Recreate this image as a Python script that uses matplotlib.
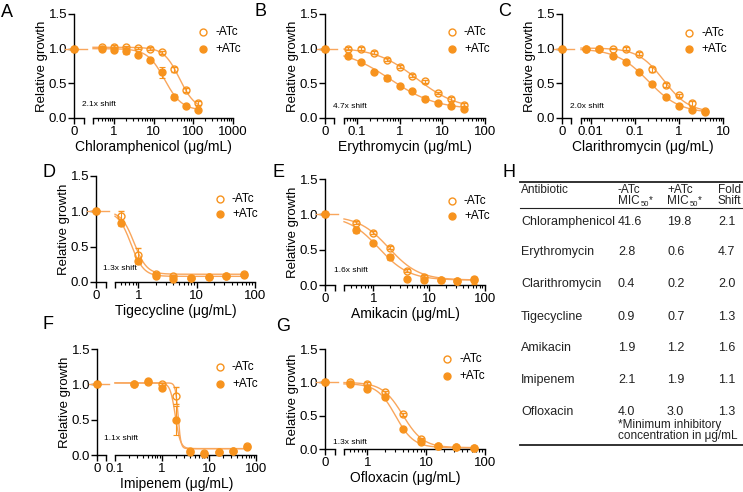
import numpy as np
import matplotlib
matplotlib.use("Agg")
import matplotlib.pyplot as plt
from matplotlib.lines import Line2D
from matplotlib.transforms import Affine2D
from matplotlib.ticker import FixedLocator, NullFormatter

W, H = 743, 492
ORANGE = '#F7931E'
CURVE = '#F9A65C'
TXT = '#222222'

plt.rcParams['font.family'] = ['Liberation Sans', 'DejaVu Sans']

# ---- data ----
chl_conc = [0.5, 1, 2, 4, 8, 16, 32, 64, 128]
chl_minus = [1.02, 1.03, 1.02, 1.01, 1.00, 0.95, 0.70, 0.40, 0.22]
chl_plus = [0.99, 0.98, 0.96, 0.91, 0.84, 0.66, 0.31, 0.17, 0.12]
chl_err_minus = [0.02, 0.02, 0.02, 0.02, 0.02, 0.02, 0.03, 0.03, 0.03]
chl_err_plus = [0.02, 0.02, 0.03, 0.02, 0.02, 0.08, 0.03, 0.02, 0.02]

ery_conc = [0.0625, 0.125, 0.25, 0.5, 1, 2, 4, 8, 16, 32]
ery_minus = [1.00, 1.00, 0.94, 0.84, 0.74, 0.61, 0.53, 0.36, 0.27, 0.19]
ery_plus = [0.90, 0.81, 0.67, 0.58, 0.46, 0.39, 0.28, 0.21, 0.17, 0.13]
ery_err_minus = [0.02, 0.02, 0.02, 0.02, 0.02, 0.02, 0.02, 0.02, 0.03, 0.03]
ery_err_plus = [0.03, 0.02, 0.02, 0.04, 0.02, 0.02, 0.04, 0.02, 0.02, 0.02]

cla_conc = [0.0078, 0.0156, 0.03125, 0.0625, 0.125, 0.25, 0.5, 1, 2, 4]
cla_minus = [1.00, 1.00, 1.00, 1.00, 0.93, 0.70, 0.48, 0.33, 0.21, 0.10]
cla_plus = [1.00, 1.00, 0.89, 0.81, 0.67, 0.49, 0.30, 0.17, 0.12, 0.08]
cla_err_minus = [0.01, 0.01, 0.01, 0.02, 0.02, 0.03, 0.03, 0.02, 0.04, 0.02]
cla_err_plus = [0.01, 0.01, 0.01, 0.01, 0.02, 0.01, 0.01, 0.01, 0.01, 0.01]

tig_conc = [0.5, 1, 2, 4, 8, 16, 32, 64]
tig_minus = [0.94, 0.38, 0.12, 0.08, 0.06, 0.07, 0.09, 0.12]
tig_plus = [0.83, 0.30, 0.08, 0.04, 0.05, 0.07, 0.08, 0.10]
tig_err_minus = [0.07, 0.10, 0.02, 0.02, 0.02, 0.02, 0.02, 0.02]
tig_err_plus = [0.04, 0.04, 0.02, 0.02, 0.02, 0.02, 0.02, 0.02]

ami_conc = [0.5, 1, 2, 4, 8, 16, 32, 64]
ami_minus = [0.88, 0.74, 0.53, 0.20, 0.11, 0.07, 0.05, 0.07]
ami_plus = [0.78, 0.60, 0.40, 0.09, 0.07, 0.07, 0.05, 0.08]
ami_err_minus = [0.02, 0.02, 0.02, 0.02, 0.03, 0.02, 0.04, 0.05]
ami_err_plus = [0.04, 0.02, 0.04, 0.02, 0.02, 0.02, 0.03, 0.04]

imi_conc = [0.25, 0.5, 1, 2, 4, 8, 16, 32, 64]
imi_minus = [1.01, 1.03, 1.00, 0.84, 0.05, 0.03, 0.04, 0.06, 0.13]
imi_plus = [1.01, 1.05, 0.95, 0.49, 0.04, 0.02, 0.04, 0.06, 0.12]
imi_err_minus = [0.01, 0.02, 0.02, 0.12, 0.01, 0.02, 0.02, 0.02, 0.02]
imi_err_plus = [0.01, 0.02, 0.03, 0.20, 0.01, 0.02, 0.02, 0.02, 0.02]

ofl_conc = [0.5, 1, 2, 4, 8, 16, 32, 64]
ofl_minus = [1.00, 0.98, 0.85, 0.52, 0.15, 0.05, 0.03, 0.02]
ofl_plus = [0.97, 0.90, 0.78, 0.30, 0.11, 0.05, 0.03, 0.02]
ofl_err_minus = [0.02, 0.02, 0.02, 0.02, 0.02, 0.02, 0.02, 0.02]
ofl_err_plus = [0.02, 0.02, 0.02, 0.02, 0.02, 0.02, 0.02, 0.02]

# fitted dose-response curves: [top, bottom, IC50, hill slope]
chl_fit_minus = [1.02, 0.12, 45, 2.2]
chl_fit_plus = [1.00, 0.11, 19, 2.0]
ery_fit_minus = [1.02, 0.12, 2.5, 0.9]
ery_fit_plus = [1.00, 0.12, 0.6, 0.8]
cla_fit_minus = [1.01, 0.08, 0.45, 1.5]
cla_fit_plus = [1.00, 0.07, 0.2, 1.2]
tig_fit_minus = [1.00, 0.11, 0.85, 4.0]
tig_fit_plus = [1.00, 0.08, 0.75, 4.0]
ami_fit_minus = [0.98, 0.07, 1.9, 1.6]
ami_fit_plus = [0.98, 0.07, 1.25, 1.6]
imi_fit_minus = [1.02, 0.09, 2.2, 15]
imi_fit_plus = [1.02, 0.09, 1.92, 8]
ofl_fit_minus = [1.00, 0.02, 4.0, 2.5]
ofl_fit_plus = [0.98, 0.02, 3.0, 2.8]

# table H
tab_drugs = ['Chloramphenicol', 'Erythromycin', 'Clarithromycin', 'Tigecycline',
             'Amikacin', 'Imipenem', 'Ofloxacin']
tab_mic_minus = ['41.6', '2.8', '0.4', '0.9', '1.9', '2.1', '4.0']
tab_mic_plus = ['19.8', '0.6', '0.2', '0.7', '1.2', '1.9', '3.0']
tab_fold = ['2.1', '4.7', '2.0', '1.3', '1.6', '1.1', '1.3']

fig = plt.figure(figsize=(W / 100, H / 100), dpi=100)
PX = Affine2D().scale(1 / W, -1 / H).translate(0, 1) + fig.transFigure


def hill(x, top, bottom, ic50, h):
    return bottom + (top - bottom) / (1 + (x / ic50) ** h)


def px_axes(x0, x1, y0, y1):
    return fig.add_axes([x0 / W, 1 - y1 / H, (x1 - x0) / W, (y1 - y0) / H])


def draw_panel(geom, xlim, xticks, xlabel, conc, minus, plus, err_m, err_p,
               fit_m, fit_p, shift, leg):
    xa, xb, xs, xe, yt, yb = geom
    ax0 = px_axes(xa, xb, yt, yb)
    ax1 = px_axes(xs, xe, yt, yb)
    for ax in (ax0, ax1):
        ax.set_ylim(0, 1.5)
        ax.patch.set_visible(False)
        for s in ['top', 'right']:
            ax.spines[s].set_visible(False)
        for s in ['left', 'bottom']:
            ax.spines[s].set_linewidth(1.0)
        ax.tick_params(which='major', length=4, width=1.0, labelsize=9.5,
                       colors='black', pad=2)
        ax.tick_params(which='minor', length=2.2, width=0.8)
    # zero segment
    ax0.set_xlim(0, 1)
    ax0.set_xticks([0, 1])
    ax0.set_xticklabels(['0', ''])
    ax0.set_yticks([0, 0.5, 1.0, 1.5])
    ax0.set_yticklabels(['0.0', '0.5', '1.0', '1.5'])
    ax0.tick_params(axis='y', pad=1)
    ax0.set_ylabel('Relative growth', fontsize=9.5, labelpad=0.5)
    ax0.plot([-0.9, 1.3], [1, 1], color=CURVE, lw=1.0, clip_on=False)
    ax0.plot([0], [1.0], 'o', ms=5, mfc='none', mec=ORANGE, mew=1.0, clip_on=False)
    ax0.plot([0], [1.0], 'o', ms=5, color=ORANGE, clip_on=False, zorder=5)

    # log segment
    ax1.spines['left'].set_visible(False)
    ax1.set_yticks([])
    ax1.set_xscale('log')
    ax1.set_xlim(*xlim)
    majors = list(xticks)
    labels = [f'{t:g}' for t in xticks]
    if xlim[0] < min(xticks) * 0.99:
        majors = [xlim[0]] + majors
        labels = [''] + labels
    ax1.xaxis.set_major_locator(FixedLocator(majors))
    ax1.set_xticklabels(labels)
    minors = [m * 10.0 ** d for d in range(-4, 4) for m in range(2, 10)]
    minors = [m for m in minors if xlim[0] < m < xlim[1]]
    ax1.xaxis.set_minor_locator(FixedLocator(minors))
    ax1.xaxis.set_minor_formatter(NullFormatter())

    xx = np.logspace(np.log10(xlim[0]), np.log10(conc[-1]), 300)
    ax1.plot(xx, hill(xx, *fit_m), color=CURVE, lw=1.0, clip_on=False)
    ax1.plot(xx, hill(xx, *fit_p), color=CURVE, lw=1.0, clip_on=False)
    ax1.errorbar(conc, plus, yerr=err_p, fmt='o', ms=5, color=ORANGE,
                 elinewidth=0.8, capsize=2, capthick=0.8, clip_on=False, zorder=3)
    ax1.errorbar(conc, minus, yerr=err_m, fmt='o', ms=5, mfc='none', mec=ORANGE,
                 mew=1.0, ecolor=ORANGE, elinewidth=0.8, capsize=2, capthick=0.8,
                 clip_on=False, zorder=4)

    fig.text((xa + xe) / 2, yb + 29, xlabel, transform=PX, ha='center', va='center',
             fontsize=10)
    fig.text(shift[0], shift[1], shift[2], transform=PX, ha='left', va='center',
             fontsize=6)
    # legend
    cx, y1, y2 = leg
    fig.add_artist(Line2D([cx], [y1], transform=PX, marker='o', ms=5, mfc='none',
                          mec=ORANGE, mew=1.0, ls='none'))
    fig.add_artist(Line2D([cx], [y2], transform=PX, marker='o', ms=5, color=ORANGE,
                          ls='none'))
    fig.text(cx + 12, y1, '-ATc', transform=PX, va='center', fontsize=8.5)
    fig.text(cx + 12, y2, '+ATc', transform=PX, va='center', fontsize=8.5)


draw_panel((74, 84, 93, 233, 14, 118), (0.3, 1000), [1, 10, 100, 1000],
           'Chloramphenicol (μg/mL)', chl_conc, chl_minus, chl_plus,
           chl_err_minus, chl_err_plus, chl_fit_minus, chl_fit_plus,
           (82, 104, '2.1x shift'), (203, 32, 49))
draw_panel((325, 334, 344, 485, 14, 118), (0.05, 100), [0.1, 1, 10, 100],
           'Erythromycin (μg/mL)', ery_conc, ery_minus, ery_plus,
           ery_err_minus, ery_err_plus, ery_fit_minus, ery_fit_plus,
           (333, 107, '4.7x shift'), (452, 32, 49))
draw_panel((562, 571, 581, 723, 14, 118), (0.006, 10), [0.01, 0.1, 1, 10],
           'Clarithromycin (μg/mL)', cla_conc, cla_minus, cla_plus,
           cla_err_minus, cla_err_plus, cla_fit_minus, cla_fit_plus,
           (570, 107, '2.0x shift'), (689, 33, 49))
draw_panel((96, 106, 115, 255, 176, 282), (0.4, 100), [1, 10, 100],
           'Tigecycline (μg/mL)', tig_conc, tig_minus, tig_plus,
           tig_err_minus, tig_err_plus, tig_fit_minus, tig_fit_plus,
           (103, 268, '1.3x shift'), (220, 199, 214))
draw_panel((325, 335, 344, 485, 179, 285), (0.3, 100), [1, 10, 100],
           'Amikacin (μg/mL)', ami_conc, ami_minus, ami_plus,
           ami_err_minus, ami_err_plus, ami_fit_minus, ami_fit_plus,
           (334, 271, '1.6x shift'), (452, 201, 216))
draw_panel((97, 106, 115, 256, 349, 455), (0.1, 100), [0.1, 1, 10, 100],
           'Imipenem (μg/mL)', imi_conc, imi_minus, imi_plus,
           imi_err_minus, imi_err_plus, imi_fit_minus, imi_fit_plus,
           (104, 439, '1.1x shift'), (220, 367, 384))
draw_panel((325, 335, 344, 485, 349, 449), (0.4, 100), [1, 10, 100],
           'Ofloxacin (μg/mL)', ofl_conc, ofl_minus, ofl_plus,
           ofl_err_minus, ofl_err_plus, ofl_fit_minus, ofl_fit_plus,
           (333, 442, '1.3x shift'), (447, 359, 376))

# panel letters
for letter, x, y in [('A', 1, 17), ('B', 255, 16), ('C', 498, 16), ('D', 42, 177),
                     ('E', 273, 177), ('F', 42, 329), ('G', 276, 331), ('H', 503, 177)]:
    fig.text(x, y, letter, transform=PX, fontsize=13, ha='left', va='baseline')

# table H
cols = [521, 618, 667, 718]
fig.add_artist(Line2D([520, 743], [182, 182], transform=PX, color=TXT, lw=1.3))
fig.add_artist(Line2D([520, 743], [208, 208], transform=PX, color=TXT, lw=0.8))
fig.add_artist(Line2D([520, 743], [445, 445], transform=PX, color=TXT, lw=1.3))
fig.text(cols[0], 190, 'Antibiotic', transform=PX, va='center', fontsize=8.5, color=TXT)
fig.text(cols[1], 190, '-ATc', transform=PX, va='center', fontsize=8.5, color=TXT)
fig.text(cols[2], 190, '+ATc', transform=PX, va='center', fontsize=8.5, color=TXT)
fig.text(cols[3], 190, 'Fold', transform=PX, va='center', fontsize=8.5, color=TXT)
for c in (cols[1], cols[2]):
    fig.text(c, 201, 'MIC', transform=PX, va='center', fontsize=8.5, color=TXT)
    fig.text(c + 22.5, 204, '50', transform=PX, va='center', fontsize=5.5, color=TXT)
    fig.text(c + 31, 200, '*', transform=PX, va='center', fontsize=7, color=TXT)
fig.text(cols[3], 201, 'Shift', transform=PX, va='center', fontsize=8.5, color=TXT)
row_y = [222, 252, 284, 317, 348, 380, 412]
for i, y in enumerate(row_y):
    fig.text(cols[0], y, tab_drugs[i], transform=PX, va='center', fontsize=9, color=TXT)
    fig.text(cols[1], y, tab_mic_minus[i], transform=PX, va='center', fontsize=9, color=TXT)
    fig.text(cols[2], y, tab_mic_plus[i], transform=PX, va='center', fontsize=9, color=TXT)
    fig.text(cols[3], y, tab_fold[i], transform=PX, va='center', fontsize=9, color=TXT)
fig.text(cols[1], 425, '*Minimum inhibitory', transform=PX, va='center', fontsize=8.5, color=TXT)
fig.text(cols[1], 436, 'concentration in μg/mL', transform=PX, va='center', fontsize=8.5, color=TXT)

fig.savefig('out.png', dpi=100)
